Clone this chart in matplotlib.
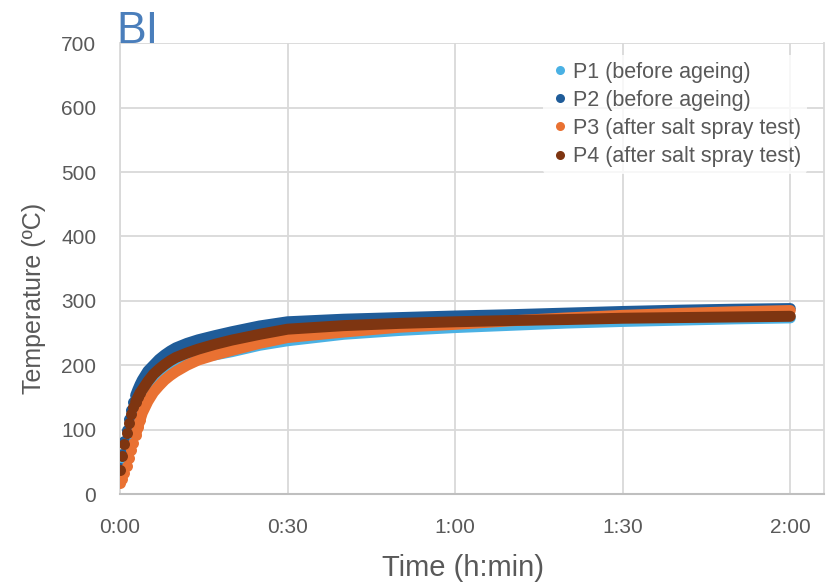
import numpy as np
import matplotlib
matplotlib.use("Agg")
from matplotlib import pyplot as plt
from matplotlib.lines import Line2D
from matplotlib.ticker import FuncFormatter, MultipleLocator

# time (min) of the read-off points
time_min = [0, 0.4, 0.8, 1.2, 1.6, 2.0, 2.4, 2.8, 3.2, 3.6, 4, 5, 6, 7, 8, 9, 10,
            12, 14, 17, 20, 25, 30, 40, 50, 60, 70, 80, 90, 100, 110, 120]

# temperatures (ºC)
p1 = [30, 44, 57, 70, 84, 96, 107, 117, 126, 134, 142, 158, 171, 180, 188, 194, 199,
      207, 212, 216, 221, 231, 238, 248, 254, 258.5, 262, 265.5, 268, 270, 272, 273.5]
p2 = [40, 62, 82, 100, 117, 131, 143, 153, 162, 170, 177, 191, 200, 209, 216, 222, 227,
      234, 239.5, 246, 252, 261, 267.5, 271.5, 274, 276.5, 278.5, 281, 283.5, 285.5, 287, 288]
p3 = [17, 24, 33, 44, 56, 68, 80, 92, 104, 115, 126, 144, 158, 168, 177, 184, 190,
      200, 208, 216, 223, 234, 243, 251.5, 259, 263.5, 269, 273.5, 277.5, 280.5, 283, 285]
p4 = [38, 59, 78, 95, 111, 124, 135, 143, 150, 157, 162, 175, 186, 194, 201, 207, 212,
      219, 225, 232.5, 239, 248, 256, 261.5, 265, 267.5, 269.5, 271, 273, 274, 275, 276]

labels = ["P1 (before ageing)", "P2 (before ageing)",
          "P3 (after salt spray test)", "P4 (after salt spray test)"]
colors = ['#4AB1E4', '#1F5C99', '#E97132', '#7E3511']

plt.rcParams['font.family'] = ['Liberation Sans', 'DejaVu Sans']
txt = '#595959'
grid = '#D9D9D9'

fig = plt.figure(figsize=(8.33, 5.84), dpi=100)
ax = fig.add_axes([0.144, 0.154, 0.845, 0.772])

t = np.array(time_min)
late = t >= 2.8
early = t <= 3.6
ms = 7.9
for vals, c, lab in zip([p1, p2, p3, p4], colors, labels):
    v = np.array(vals)
    ax.plot(t[late], v[late], '-', color=c, linewidth=ms, solid_capstyle='round',
            solid_joinstyle='round', zorder=3)
    ax.plot(t[early], v[early], 'o', color=c, markersize=ms, markeredgewidth=0, zorder=3)

ax.set_xlim(0, 126)
ax.set_ylim(0, 700)
ax.xaxis.set_major_locator(MultipleLocator(30))
ax.yaxis.set_major_locator(MultipleLocator(100))
ax.xaxis.set_major_formatter(FuncFormatter(lambda x, p: "%d:%02d" % (x // 60, x % 60)))
ax.grid(True, color=grid, linewidth=1.3, zorder=0)
ax.set_axisbelow(True)
ax.tick_params(length=0, labelsize=15, labelcolor=txt)
ax.tick_params(axis='y', pad=17)
ax.tick_params(axis='x', pad=17)
ax.spines['top'].set_visible(False)
ax.spines['right'].set_color(grid)
ax.spines['right'].set_linewidth(1.3)
ax.spines['left'].set_color(grid)
ax.spines['left'].set_linewidth(1.3)
ax.spines['bottom'].set_color('#BFBFBF')
ax.spines['bottom'].set_linewidth(1.5)

ax.set_ylabel("Temperature (ºC)", fontsize=18, color=txt)
ax.yaxis.set_label_coords(-0.105, 0.435)
ax.set_xlabel("Time (h:min)", fontsize=21, color=txt)
ax.xaxis.set_label_coords(0.487, -0.133)

fig.text(0.140, 0.926, "BI", fontsize=32, color='#4A7EBB', ha='left', va='baseline')

handles = [Line2D([], [], marker='o', linestyle='none', color=c, markersize=6.5,
                  markeredgewidth=0) for c in colors]
leg = ax.legend(handles, labels, loc='upper right', bbox_to_anchor=(0.992, 0.997),
                frameon=True, fontsize=15.5, handletextpad=0.1, labelspacing=0.33,
                borderpad=0.3, handlelength=1.0)
leg.get_frame().set_facecolor('white')
leg.get_frame().set_edgecolor('none')
for tx in leg.get_texts():
    tx.set_color(txt)

fig.savefig("out.png", dpi=100)
